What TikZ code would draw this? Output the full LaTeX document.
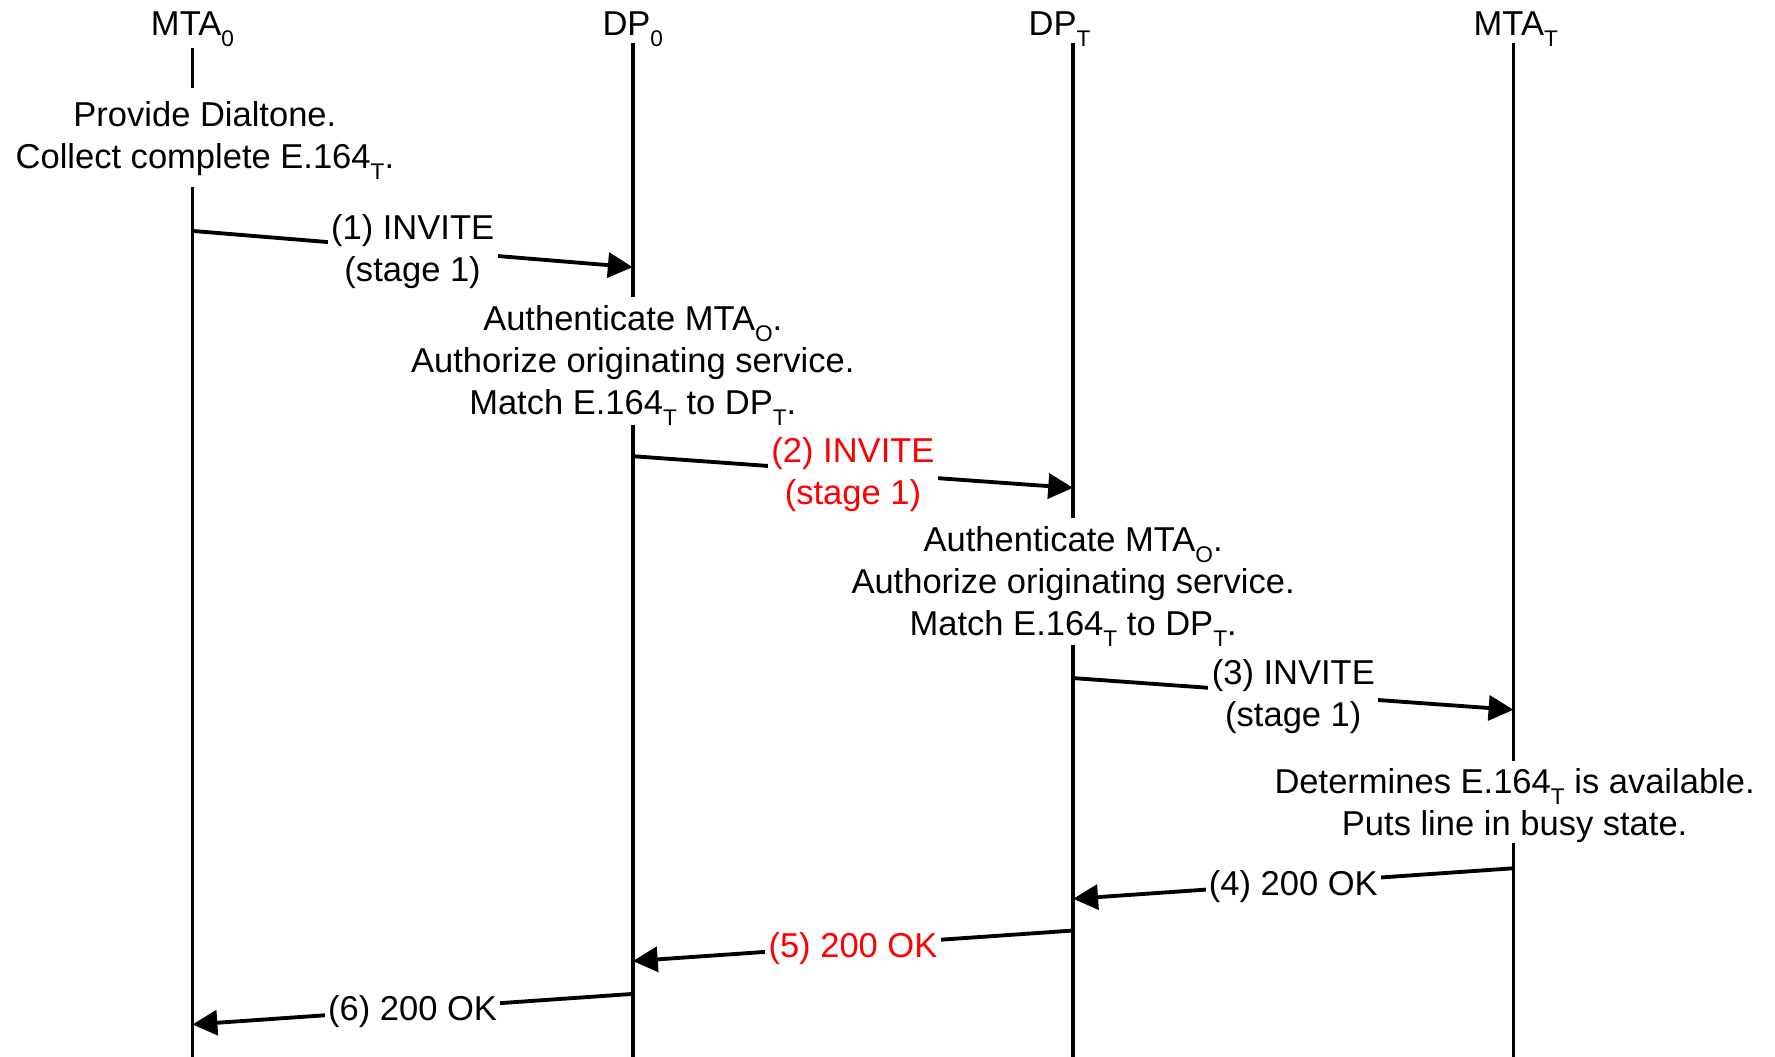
\documentclass[tikz,border=0pt]{standalone}
\usepackage{fontspec}
\setmainfont{Liberation Sans}
\usetikzlibrary{arrows.meta}
\newcommand\lowsub[1]{\raisebox{-10pt}{\fontsize{20}{20}\selectfont #1}}
\definecolor{msgred}{RGB}{255,0,0}
\tikzset{
  txt/.style={font=\fontsize{30.5}{37}\selectfont, align=center, inner sep=0pt},
  hdr/.style={font=\fontsize{30.5}{37}\selectfont, inner sep=0pt, anchor=base},
  life/.style={line width=3.4pt},
  msg/.style={line width=3.4pt, -{Triangle[length=22pt,width=22pt]}},
  lbl/.style={txt, fill=white, inner xsep=3pt, inner ysep=0pt, yshift=-3pt},
}
\begin{document}
\begin{tikzpicture}[x=1pt,y=-1pt]
\useasboundingbox (0,0) rectangle (1568,933);
% headers
\node[hdr] (hA) at (170,31) {MTA\lowsub{0}};
\node[hdr] (hB) at (559,31) {DP\lowsub{0}};
\node[hdr] (hC) at (936,31) {DP\lowsub{T}};
\node[hdr] (hD) at (1339,31) {MTA\lowsub{T}};
% lifeline coordinates
\coordinate (a0) at (170,42);  \coordinate (a1) at (170,78);
\coordinate (a2) at (170,165); \coordinate (a3) at (170,934);
\coordinate (b0) at (559,38);  \coordinate (b1) at (559,262);
\coordinate (b2) at (559,375); \coordinate (b3) at (559,934);
\coordinate (c0) at (948,38);  \coordinate (c1) at (948,458);
\coordinate (c2) at (948,570); \coordinate (c3) at (948,934);
\coordinate (d0) at (1337,38); \coordinate (d1) at (1337,672);
\coordinate (d2) at (1337,745);\coordinate (d3) at (1337,934);
\draw[life] (a0) -- (a1) (a2) -- (a3);
\draw[life] (b0) -- (b1) (b2) -- (b3);
\draw[life] (c0) -- (c1) (c2) -- (c3);
\draw[life] (d0) -- (d1) (d2) -- (d3);
% action texts
\node[txt] (tA) at (181,123) {\strut Provide Dialtone.\\\strut Collect complete E.164\lowsub{T}.};
\node[txt] (tB) at (559,321.6) {\strut Authenticate MTA\lowsub{O}.\\\strut Authorize originating service.\\\strut Match E.164\lowsub{T} to DP\lowsub{T}.};
\node[txt] (tC) at (948,516.6) {\strut Authenticate MTA\lowsub{O}.\\\strut Authorize originating service.\\\strut Match E.164\lowsub{T} to DP\lowsub{T}.};
\node[txt] (tD) at (1338,712) {\strut Determines E.164\lowsub{T} is available.\\\strut Puts line in busy state.};
% message endpoints
\coordinate (m1s) at (170,204);  \coordinate (m1e) at (559,236);
\coordinate (m2s) at (559,403);  \coordinate (m2e) at (948,431);
\coordinate (m3s) at (948,599);  \coordinate (m3e) at (1337,627);
\coordinate (m4s) at (1337,767); \coordinate (m4e) at (948,794);
\coordinate (m5s) at (948,822);  \coordinate (m5e) at (559,849);
\coordinate (m6s) at (559,878);  \coordinate (m6e) at (170,905);
% messages
\draw[msg] (m1s) -- node[lbl] (l1) {\strut (1) INVITE\\\strut (stage 1)} (m1e);
\draw[msg] (m2s) -- node[lbl, text=msgred] (l2) {\strut (2) INVITE\\\strut (stage 1)} (m2e);
\draw[msg] (m3s) -- node[lbl] (l3) {\strut (3) INVITE\\\strut (stage 1)} (m3e);
\draw[msg] (m4s) -- node[lbl] (l4) {\strut (4) 200 OK} (m4e);
\draw[msg] (m5s) -- node[lbl, text=msgred] (l5) {\strut (5) 200 OK} (m5e);
\draw[msg] (m6s) -- node[lbl] (l6) {\strut (6) 200 OK} (m6e);
\end{tikzpicture}
\end{document}
